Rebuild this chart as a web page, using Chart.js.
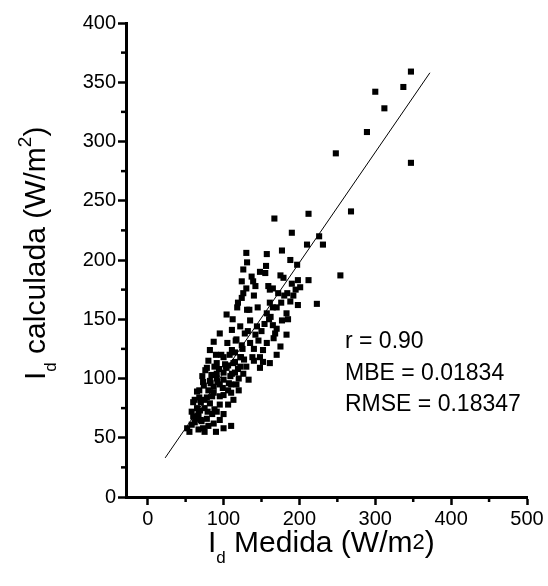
<!DOCTYPE html>
<html>
<head>
<meta charset="utf-8">
<script src="https://cdn.jsdelivr.net/npm/chart.js@4"></script>
<style>
  html, body { margin: 0; padding: 0; background: #fff; }
  #wrap { width: 548px; height: 586px; }
</style>
</head>
<body>
<div id="wrap"><canvas id="scatterChart" width="548" height="586"></canvas></div>
<script>
const measured = [
  347, 337, 300, 312, 289, 248, 347, 167, 212, 268, 190, 226, 231, 254, 177, 130, 157, 210, 188, 212, 124,
  131, 126, 156, 155, 197, 137, 139, 175, 179, 198, 159, 165, 201,
  161, 172, 124, 119, 131, 161, 188, 198, 223, 183, 157, 104, 135, 177, 122, 144, 170, 111, 183, 142,
  95, 87, 117, 157, 135, 82, 111, 152, 166, 175, 100, 122, 148, 91, 113, 161, 78, 104, 148,
  106, 122, 152, 76, 91, 109, 133, 73, 87, 106, 65, 100, 106, 62, 82, 69, 91, 60, 78, 58, 73, 87, 67,
  95, 113, 84, 100, 117, 126,
  80, 95, 110, 120, 85, 75, 100, 95, 80, 70, 65, 85, 110, 120, 115, 130, 140, 125, 140, 100, 92, 78,
  70, 88, 97, 105, 115, 128, 150, 160, 165, 145, 140, 130, 148, 170, 180, 190, 195, 185, 170, 165,
  110, 100, 90, 75, 62, 58, 68, 72, 80, 90, 60, 52, 55,
  63, 67, 71, 75, 79, 83, 87, 91, 95, 99, 103, 107, 111, 115, 119, 123, 127,
  68, 74, 82, 88, 94, 102, 108, 116, 124,
  132, 138, 146, 154, 162, 168, 176, 184, 192, 112, 118, 126, 134, 142
];
const calculated = [
  359, 346, 342, 328, 308, 290, 282, 235, 239, 241, 223, 220, 213, 187, 208, 206, 205, 213, 200, 183, 182,
  198, 192, 195, 189, 196, 186, 182, 187, 185, 183, 178, 176, 177,
  175, 172, 168, 164, 158, 164, 165, 162, 163, 155, 155, 154, 149, 149, 144, 144, 142, 141, 137, 137,
  138, 131, 133, 130, 130, 124, 124, 124, 134, 127, 118, 118, 118, 113, 113, 113, 109, 109, 109,
  111, 110, 114, 107, 104, 102, 99, 97, 93, 90, 89, 86, 78, 82, 79, 73, 72, 68, 66, 61, 58, 62, 57,
  85, 82, 103, 99, 95, 104,
  90, 95, 95, 100, 85, 75, 70, 65, 60, 65, 75, 70, 88, 90, 105, 110, 115, 125, 125, 105, 97, 84,
  80, 110, 120, 130, 122, 138, 140, 150, 160, 160, 170, 176, 190, 160, 170, 180, 175, 150, 120, 145,
  60, 58, 55, 55, 63, 72, 90, 102, 115, 120, 80, 58, 55,
  66, 70, 64, 82, 72, 96, 88, 100, 78, 92, 110, 96, 104, 114, 108, 118, 116,
  84, 94, 98, 74, 108, 112, 120, 132, 128,
  140, 118, 132, 146, 152, 138, 164, 172, 170, 150, 160, 172, 158, 178
];
// regression line end points
const fitX = [23, 372];
const fitY = [33, 358];

const xTicks = [0, 100, 200, 300, 400, 500];
const yTicks = [0, 50, 100, 150, 200, 250, 300, 350, 400];
const xMinorTicks = [50, 150, 250, 350, 450];
const yMinorTicks = [25, 75, 125, 175, 225, 275, 325, 375];
const statsLines = ['r = 0.90', 'MBE = 0.01834', 'RMSE = 0.18347'];

const FONT = "'Liberation Sans', Arial, sans-serif";

// draws a string made of parts with their own size and vertical shift
function drawParts(ctx, parts, x, y) {
  let cx = x;
  parts.forEach(p => {
    ctx.font = p.size + 'px ' + FONT;
    ctx.fillText(p.t, cx, y + (p.dy || 0));
    cx += ctx.measureText(p.t).width;
  });
}

const decorPlugin = {
  id: 'decor',
  afterDraw(chart) {
    const ctx = chart.ctx;
    const xs = chart.scales.x;
    const ys = chart.scales.y;
    ctx.save();
    ctx.strokeStyle = '#000';
    ctx.fillStyle = '#000';
    ctx.lineWidth = 2.5;

    // minor ticks
    xMinorTicks.forEach(v => {
      const px = xs.getPixelForValue(v);
      ctx.beginPath();
      ctx.moveTo(px, ys.bottom);
      ctx.lineTo(px, ys.bottom + 5);
      ctx.stroke();
    });
    yMinorTicks.forEach(v => {
      const py = ys.getPixelForValue(v);
      ctx.beginPath();
      ctx.moveTo(xs.left, py);
      ctx.lineTo(xs.left - 5, py);
      ctx.stroke();
    });

    ctx.textAlign = 'left';
    ctx.textBaseline = 'alphabetic';

    // x title
    drawParts(ctx, [
      { t: 'I', size: 30 },
      { t: 'd', size: 17, dy: 11 },
      { t: ' Medida (W/m', size: 30 },
      { t: '2', size: 22, dy: -3 },
      { t: ')', size: 30 }
    ], 208, 552);

    // y title, rotated
    ctx.save();
    ctx.translate(45, 380);
    ctx.rotate(-Math.PI / 2);
    drawParts(ctx, [
      { t: 'I', size: 30 },
      { t: 'd', size: 17, dy: 11 },
      { t: ' calculada (W/m', size: 30 },
      { t: '2', size: 19, dy: -14 },
      { t: ')', size: 30 }
    ], 0, 0);
    ctx.restore();

    // statistics
    ctx.font = '23px ' + FONT;
    statsLines.forEach((s, i) => {
      ctx.fillText(s, 345, 348 + i * 31.5);
    });
    ctx.restore();
  }
};

const axisCommon = {
  type: 'linear',
  grid: {
    drawOnChartArea: false,
    drawTicks: true,
    tickLength: 8,
    tickWidth: 2.5,
    tickColor: '#000'
  },
  border: { display: true, color: '#000', width: 3 },
  ticks: {
    color: '#000',
    font: { family: FONT, size: 20 },
    padding: 2,
    maxRotation: 0
  }
};

const chartConfig = {
  type: 'scatter',
  data: {
    datasets: [
      {
        label: 'data',
        data: measured.map((x, i) => ({ x: x, y: calculated[i] })),
        pointStyle: 'rect',
        pointRadius: 4.3,
        backgroundColor: '#000',
        borderWidth: 0
      },
      {
        label: 'fit',
        data: fitX.map((x, i) => ({ x: x, y: fitY[i] })),
        showLine: true,
        borderColor: '#000',
        borderWidth: 1,
        pointRadius: 0
      }
    ]
  },
  options: {
    responsive: false,
    animation: false,
    layout: { padding: { top: 23, right: 21, left: 0, bottom: 0 } },
    plugins: {
      legend: { display: false },
      tooltip: { enabled: false }
    },
    scales: {
      x: Object.assign({}, axisCommon, {
        min: -28.6,
        max: 500,
        afterBuildTicks: s => { s.ticks = xTicks.map(v => ({ value: v })); },
        afterFit: s => { s.height = 89; }
      }),
      y: Object.assign({}, axisCommon, {
        min: 0,
        max: 400,
        afterBuildTicks: s => { s.ticks = yTicks.map(v => ({ value: v })); },
        afterFit: s => { s.width = 126; }
      })
    }
  },
  plugins: [decorPlugin]
};

let chartID = document.getElementById('scatterChart');
let chart = new Chart(chartID, chartConfig);
</script>
</body>
</html>
